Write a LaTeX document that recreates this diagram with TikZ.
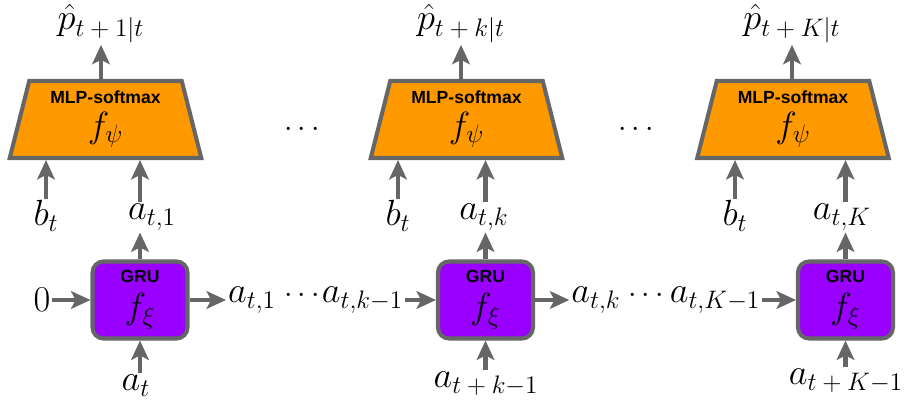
\documentclass[tikz,border=0pt]{standalone}
\usepackage{fontspec}
\setsansfont{Liberation Sans}
\usetikzlibrary{shapes.geometric,arrows.meta}

\definecolor{trait}{HTML}{666666}
\definecolor{orangemlp}{HTML}{FF9900}
\definecolor{violetgru}{HTML}{9900FF}

\newcommand{\titrebloc}[1]{{\fontsize{10}{12}\selectfont\sffamily\bfseries #1}}
\newcommand{\plusb}{\mskip\medmuskip{+}\mskip\medmuskip}

\tikzset{
  mlp/.style={trapezium, trapezium stretches=true, trapezium angle=76,
    minimum width=3.86cm, minimum height=1.54cm, inner sep=0pt,
    draw=trait, fill=orangemlp, line width=2.3pt, align=center, font=\huge},
  gru/.style={rectangle, rounded corners=0.22cm,
    minimum width=1.9cm, minimum height=1.54cm, inner sep=0pt,
    draw=trait, fill=violetgru, line width=2.3pt, align=center, font=\huge},
  lbl/.style={font=\huge, inner sep=1pt},
  points/.style={font=\LARGE, inner sep=1pt},
  fleche/.style={draw=trait, line width=2.3pt,
    -{Stealth[length=11pt,width=10pt,inset=2.5pt]}},
}

\begin{document}
\begin{tikzpicture}
  \useasboundingbox (0,0) rectangle (18.12,8.14);

  % Les blocs
  \node[mlp] (m1) at (2.11,5.75) {\titrebloc{MLP-softmax}\\[-6pt]$f_\psi$};
  \node[mlp] (m2) at (9.33,5.75) {\titrebloc{MLP-softmax}\\[-6pt]$f_\psi$};
  \node[mlp] (m3) at (15.86,5.75) {\titrebloc{MLP-softmax}\\[-6pt]$f_\psi$};

  \node[gru] (g1) at (2.80,2.14) {\titrebloc{GRU}\\[-4.5pt]$f_\xi$};
  \node[gru] (g2) at (9.71,2.14) {\titrebloc{GRU}\\[-4.5pt]$f_\xi$};
  \node[gru] (g3) at (16.91,2.14) {\titrebloc{GRU}\\[-4.5pt]$f_\xi$};

  % Les sorties
  \node[lbl, anchor=base] (p1) at (2.02,7.54) {$\hat{p}_{t\plusb 1|t}$};
  \node[lbl, anchor=base] (p2) at (9.22,7.54) {$\hat{p}_{t\plusb k|t}$};
  \node[lbl, anchor=base] (p3) at (15.84,7.54) {$\hat{p}_{t\plusb K|t}$};

  % Les entrees des MLP
  \node[lbl, anchor=base] (b1) at (0.92,3.62) {$b_t$};
  \node[lbl, anchor=base] (b2) at (7.96,3.62) {$b_t$};
  \node[lbl, anchor=base] (b3) at (14.70,3.62) {$b_t$};
  \node[lbl, anchor=base] (a1) at (3.04,3.74) {$a_{t,1}$};
  \node[lbl, anchor=base] (a2) at (9.68,3.74) {$a_{t,k}$};
  \node[lbl, anchor=base] (a3) at (16.84,3.74) {$a_{t,K}$};

  % Les entrees des GRU
  \node[lbl, anchor=base] (c1) at (2.72,0.32) {$a_t$};
  \node[lbl, anchor=base] (c2) at (9.72,0.38) {$a_{t\plusb k-1}$};
  \node[lbl, anchor=base] (c3) at (16.92,0.44) {$a_{t\plusb K-1}$};

  % La chaine
  \node[lbl] (z1) at (0.84,2.14) {$0$};
  \node[lbl] (o1) at (5.04,2.14) {$a_{t,1}$};
  \node[points] (d1) at (6.04,2.22) {$\cdots$};
  \node[lbl] (i2) at (7.25,2.14) {$a_{t,k-1}$};
  \node[lbl] (o2) at (11.92,2.14) {$a_{t,k}$};
  \node[points] (d2) at (12.92,2.22) {$\cdots$};
  \node[lbl] (i3) at (14.30,2.14) {$a_{t,K-1}$};

  % Les points entre les MLP
  \node[points] (t1) at (6.04,5.54) {$\cdots$};
  \node[points] (t2) at (12.72,5.54) {$\cdots$};

  % Les fleches
  \draw[fleche] (p1.south |- m1.north) -- (p1.south);
  \draw[fleche] (p2.south |- m2.north) -- (p2.south);
  \draw[fleche] (p3.south |- m3.north) -- (p3.south);

  \draw[fleche] (b1.north) -- (b1.north |- m1.south);
  \draw[fleche] (b2.north) -- (b2.north |- m2.south);
  \draw[fleche] (b3.north) -- (b3.north |- m3.south);

  \draw[fleche] (g1.north |- a1.north) -- (g1.north |- m1.south);
  \draw[fleche] (g2.north |- a2.north) -- (g2.north |- m2.south);
  \draw[fleche] (g3.north |- a3.north) -- (g3.north |- m3.south);

  \draw[fleche] (g1.north) -- (g1.north |- a1.south);
  \draw[fleche] (g2.north) -- (g2.north |- a2.south);
  \draw[fleche] (g3.north) -- (g3.north |- a3.south);

  \draw[fleche] (g1.south |- c1.north) -- (g1.south);
  \draw[fleche] (g2.south |- c2.north) -- (g2.south);
  \draw[fleche] (g3.south |- c3.north) -- (g3.south);

  \draw[fleche] (z1) -- (g1);
  \draw[fleche] (g1) -- (o1);
  \draw[fleche] (i2) -- (g2);
  \draw[fleche] (g2) -- (o2);
  \draw[fleche] (i3) -- (g3);

\end{tikzpicture}
\end{document}
